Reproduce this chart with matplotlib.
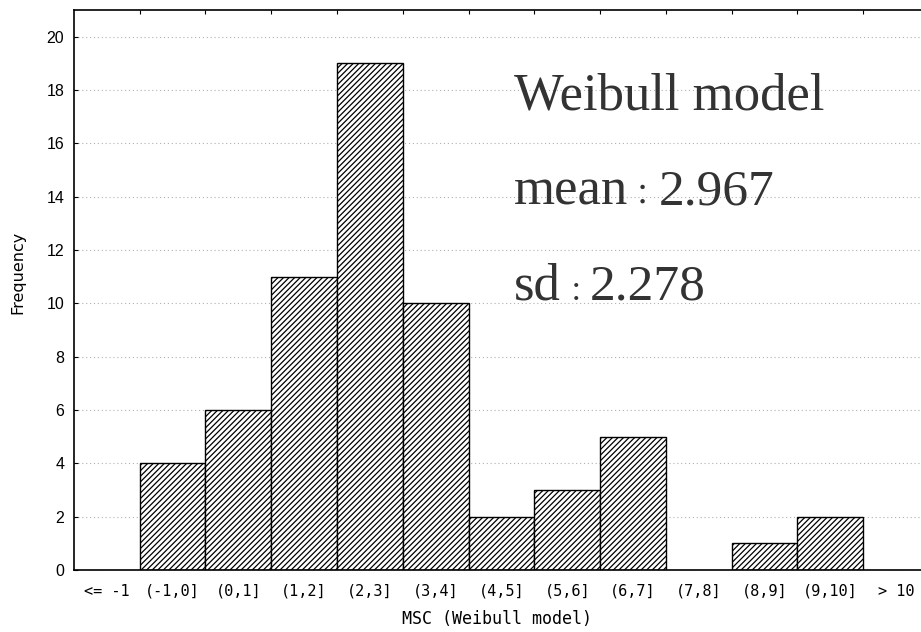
import matplotlib
matplotlib.use("Agg")
import matplotlib.pyplot as plt
import numpy as np

# Histogram of MSC under the Weibull model
categories = ["<= -1", "(-1,0]", "(0,1]", "(1,2]", "(2,3]", "(3,4]", "(4,5]",
              "(5,6]", "(6,7]", "(7,8]", "(8,9]", "(9,10]", "> 10"]
counts = [0, 4, 6, 11, 19, 10, 2, 3, 5, 0, 1, 2, 0]
y_ticks = list(range(0, 21, 2))

model_name = "Weibull model"
stat_names = ["mean", "sd"]
stat_values = ["2.967", "2.278"]
colon = "\uff1a"

plt.rcParams["hatch.linewidth"] = 0.9
plt.rcParams["hatch.color"] = "black"

fig = plt.figure(figsize=(9.21, 6.32), dpi=100)
ax = fig.add_axes([0.0803, 0.0981, 0.9197, 0.8861])

x = np.arange(len(categories))
nonzero = [i for i, c in enumerate(counts) if c > 0]
ax.bar(x[nonzero], [counts[i] for i in nonzero], width=1.0, color="white",
       edgecolor="black", linewidth=1.0, hatch="//////", zorder=2)

ax.set_xlim(-0.5, 12.38)
ax.set_ylim(0, 21.0)

ax.set_yticks(y_ticks)
ax.set_yticklabels([str(v) for v in y_ticks], fontsize=11.5,
                   family="Liberation Sans")
ax.set_xticks(x)
ax.set_xticklabels(categories, fontsize=11, family="DejaVu Sans Mono")

ax.tick_params(axis="x", which="major", length=0, pad=10)
ax.tick_params(axis="y", which="major", direction="in", length=3, width=0.8,
               pad=7)
# bin boundary ticks along the top edge
ax.set_xticks(x[:-1] + 0.5, minor=True)
ax.tick_params(axis="x", which="minor", direction="in", length=3, width=0.8,
               bottom=False, top=True)

ax.yaxis.grid(True, linestyle=(0, (1, 2.5)), color="#b0b0b0", linewidth=0.8)
ax.set_axisbelow(True)

for side in ["left", "top", "bottom"]:
    ax.spines[side].set_linewidth(1.2)
ax.spines["right"].set_visible(False)

ax.set_ylabel("Frequency", fontsize=11.5, family="DejaVu Sans")
ax.yaxis.set_label_coords(-0.057, 0.532)
ax.set_xlabel("MSC (Weibull model)", fontsize=12, family="DejaVu Sans Mono",
              labelpad=8)

# annotation block: model name and summary statistics
serif = "Liberation Serif"
ink = "#333333"
ax.text(6.19, 17.26, model_name, fontsize=38, family=serif, color=ink,
        va="baseline", ha="left")
stat_rows = [(13.70, 6.19, 8.146, 8.39, 21), (10.13, 6.19, 7.13, 7.34, 19)]
for (yb, x_name, x_colon, x_val, csize), name, val in zip(stat_rows,
                                                          stat_names,
                                                          stat_values):
    ax.text(x_name, yb, name, fontsize=38, family=serif, color=ink,
            va="baseline", ha="left")
    ax.text(x_colon, yb, colon, fontsize=csize, family="Noto Sans CJK JP",
            color=ink, va="baseline", ha="center")
    ax.text(x_val, yb, val, fontsize=37, family=serif, color=ink,
            va="baseline", ha="left")

fig.savefig("out.png", dpi=100, facecolor="white")
